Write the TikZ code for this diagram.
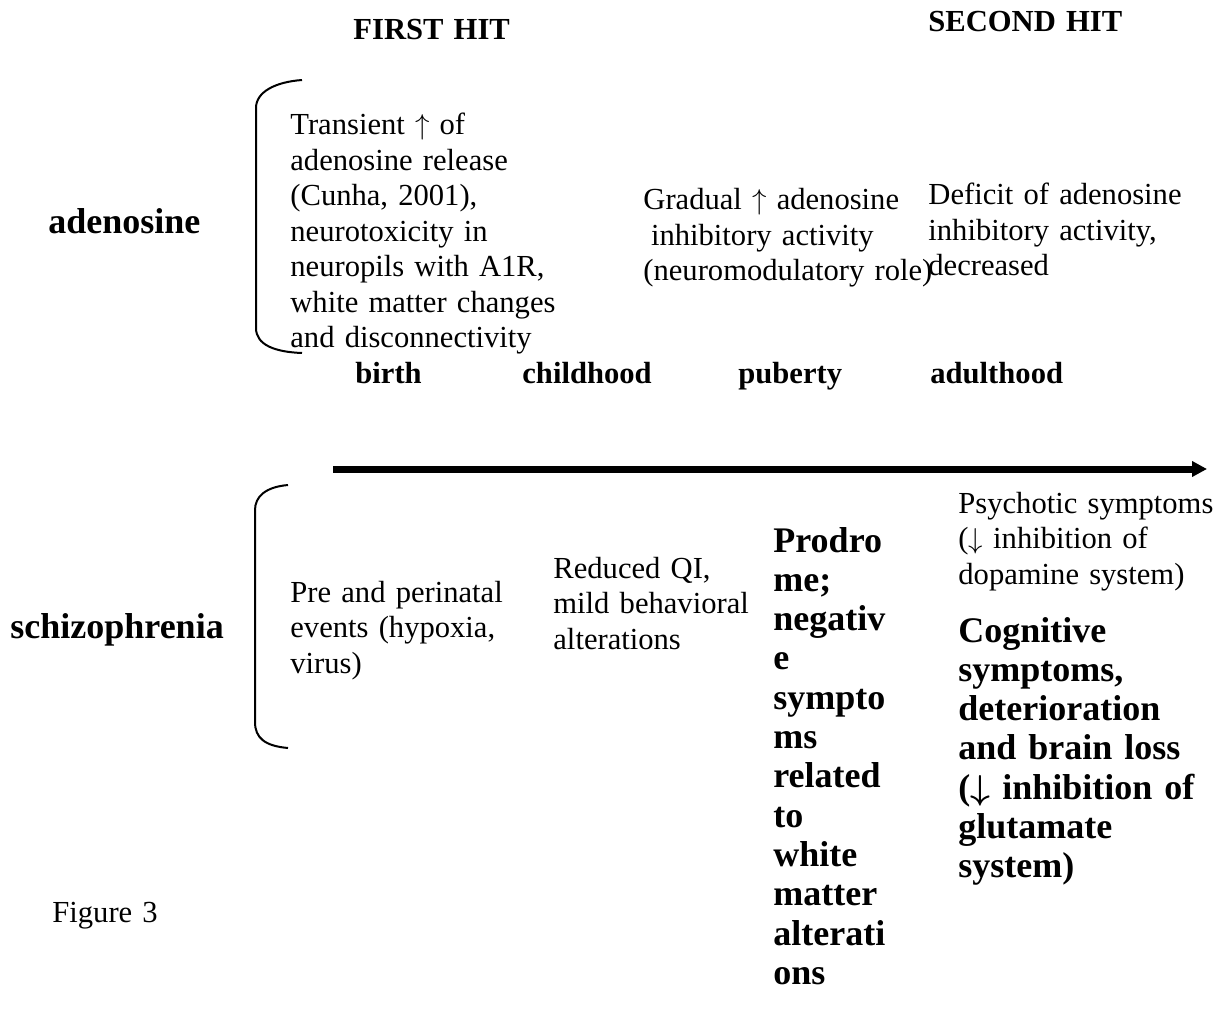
\documentclass[tikz,border=0pt]{standalone}
\usepackage{amsmath}
\usepackage{fontspec}
\setmainfont{Liberation Serif}
\usetikzlibrary{arrows.meta}

\begin{document}
\begin{tikzpicture}[x=0.5pt,y=-0.5pt,
  every node/.style={inner sep=0pt,anchor=base west,align=left,text width=200pt},
  plain/.style={font=\fontsize{15.3}{17.75}\selectfont},
  heavy/.style={font=\bfseries\fontsize{15.3}{17.75}\selectfont},
  big/.style={font=\bfseries\fontsize{18}{19.65}\selectfont},
  bracket/.style={line width=1pt}]
\useasboundingbox (0,0) rectangle (1220,1016);
% headings
\node[heavy] (firsthit) at (353,40) {FIRST HIT};
\node[heavy] (secondhit) at (928,32) {SECOND HIT};
% adenosine row
\node[big] (adenosine) at (48,234) {adenosine};
\node[plain] (aden1) at (290,135) {Transient $\uparrow$ of\\adenosine release\\(Cunha, 2001),\\neurotoxicity in\\neuropils with A1R,\\white matter changes\\and disconnectivity};
\node[plain] (aden2) at (643,210) {Gradual $\uparrow$ adenosine\\\hspace*{0.25em}inhibitory activity\\(neuromodulatory role)};
\node[plain] (aden3) at (928,205) {Deficit of adenosine\\inhibitory activity,\\decreased};
\draw[bracket] (302,80) .. controls (275,82) and (256,92) .. (256,108)
      -- (256,328) .. controls (256,345) and (275,352) .. (302,353);
% time line
\node[heavy] (birth) at (355,383) {birth};
\node[heavy] (childhood) at (522,383) {childhood};
\node[heavy] (puberty) at (738,383) {puberty};
\node[heavy] (adulthood) at (930,383) {adulthood};
\coordinate (axisstart) at (333,469);
\coordinate (axisend) at (1207,469);
\draw[line width=3.5pt,-{Triangle[length=7.5pt,width=7.5pt]}] (axisstart) -- (axisend);
% schizophrenia row
\node[big] (schizo) at (10,638) {schizophrenia};
\node[plain] (schizo1) at (290,602) {Pre and perinatal\\events (hypoxia,\\virus)};
\node[plain] (schizo2) at (553,578) {Reduced QI,\\mild behavioral\\alterations};
\node[big] (schizo3) at (773,552) {Prodro\\me;\\negativ\\e\\sympto\\ms\\related\\to\\white\\matter\\alterati\\ons};
\node[plain] (schizo4) at (958,513) {Psychotic symptoms\\($\downarrow$ inhibition of\\dopamine system)};
\node[big] (schizo5) at (958,642) {Cognitive\\symptoms,\\deterioration\\and brain loss\\($\boldsymbol{\downarrow}$ inhibition of\\glutamate\\system)};
\draw[bracket] (288,485) .. controls (265,487) and (255,497) .. (255,510)
      -- (255,722) .. controls (255,738) and (265,746) .. (288,748);
% caption
\node[plain] (caption) at (52,922) {Figure 3};
\end{tikzpicture}
\end{document}
